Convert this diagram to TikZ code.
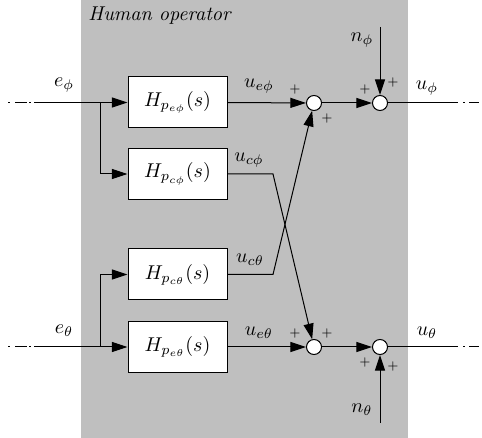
\documentclass[tikz,border=0pt]{standalone}
\usetikzlibrary{arrows.meta}
\begin{document}
\begin{tikzpicture}[x=0.5pt,y=-0.5pt,
  blk/.style={draw,fill=white,line width=0.5pt,minimum width=49.5pt,minimum height=25.5pt,inner sep=0pt},
  sumc/.style={draw,fill=white,circle,minimum size=7.5pt,inner sep=0pt,line width=0.5pt},
  arr/.style={-{Triangle[length=7.8pt,width=5pt]},line width=0.5pt},
  ln/.style={line width=0.5pt},
  dashleft/.style={line width=0.5pt,dash pattern=on 1pt off 2.5pt on 6pt off 1pt on 1pt off 1.5pt},
  dashright/.style={line width=0.5pt,dash pattern=on 1pt off 2pt on 5pt off 10pt},
  pl/.style={font=\fontsize{6.5}{7}\selectfont,inner sep=0pt},
  lbl/.style={inner sep=0pt}]
\useasboundingbox (0,0) rectangle (482,438);
\fill[black!25] (81,0) rectangle (408,438);
\node[lbl,anchor=west] (title) at (88,16) {\textit{Human operator}};
% blocks
\node[blk] (b1) at (177.5,102.5) {$H_{p_{e\phi}}(s)$};
\node[blk] (b2) at (177.5,174) {$H_{p_{c\phi}}(s)$};
\node[blk] (b3) at (177.5,274.5) {$H_{p_{c\theta}}(s)$};
\node[blk] (b4) at (177.5,347) {$H_{p_{e\theta}}(s)$};
% sums
\node[sumc] (s1) at (314,103) {};
\node[sumc] (s2) at (380,103) {};
\node[sumc] (s3) at (314,347) {};
\node[sumc] (s4) at (380,347) {};
% coordinates
\coordinate (inphiA) at (8,102.5);
\coordinate (inphiB) at (34,102.5);
\coordinate (brphi) at (100,102.5);
\coordinate (inthA) at (8,347);
\coordinate (inthB) at (34,347);
\coordinate (brth) at (100,347);
\coordinate (outphiA) at (458,103);
\coordinate (outphiC) at (463,103);
\coordinate (outphiB) at (479,103);
\coordinate (outthA) at (458,347);
\coordinate (outthC) at (463,347);
\coordinate (outthB) at (479,347);
\coordinate (nphi) at (380,27);
\coordinate (nth) at (380,423);
\coordinate (kphi) at (273,174);
\coordinate (kth) at (273,274.5);
% input lines
\draw[dashleft] (inphiA) -- (inphiB);
\draw[ln] (inphiB) -- (brphi);
\draw[arr] (brphi) -- (b1.west);
\draw[arr] (brphi) |- (b2.west);
\draw[dashleft] (inthA) -- (inthB);
\draw[ln] (inthB) -- (brth);
\draw[arr] (brth) -- (b4.west);
\draw[arr] (brth) |- (b3.west);
% outputs of blocks
\draw[arr] (b1.east) -- (s1);
\draw[arr] (b4.east) -- (s3);
\draw[arr] (b2.east) -- (kphi) -- (s3);
\draw[arr] (b3.east) -- (kth) -- (s1);
\draw[arr] (s1) -- (s2);
\draw[arr] (s3) -- (s4);
\draw[arr] (nphi) -- (s2);
\draw[arr] (nth) -- (s4);
\draw[ln] (s2) -- (outphiA);
\draw[dashright] (outphiC) -- (outphiB);
\draw[ln] (s4) -- (outthA);
\draw[dashright] (outthC) -- (outthB);
% labels
\node[lbl] (le1) at (64,85) {$e_\phi$};
\node[lbl] (le2) at (64,331) {$e_\theta$};
\node[lbl] (lu1) at (259,86) {$u_{e\phi}$};
\node[lbl] (lu2) at (249,160) {$u_{c\phi}$};
\node[lbl] (lu3) at (250,260) {$u_{c\theta}$};
\node[lbl] (lu4) at (259,333) {$u_{e\theta}$};
\node[lbl] (lo1) at (427,88) {$u_\phi$};
\node[lbl] (lo2) at (427,333) {$u_\theta$};
\node[lbl] (ln1) at (362,40) {$n_\phi$};
\node[lbl] (ln2) at (362,410) {$n_\theta$};
% plus signs
\node[pl] (p1) at (295,90) {$+$};
\node[pl] (p2) at (327,119) {$+$};
\node[pl] (p3) at (365,90) {$+$};
\node[pl] (p4) at (393,83) {$+$};
\node[pl] (p5) at (295,333) {$+$};
\node[pl] (p6) at (327,333) {$+$};
\node[pl] (p7) at (365,362) {$+$};
\node[pl] (p8) at (393,366) {$+$};
\end{tikzpicture}
\end{document}
